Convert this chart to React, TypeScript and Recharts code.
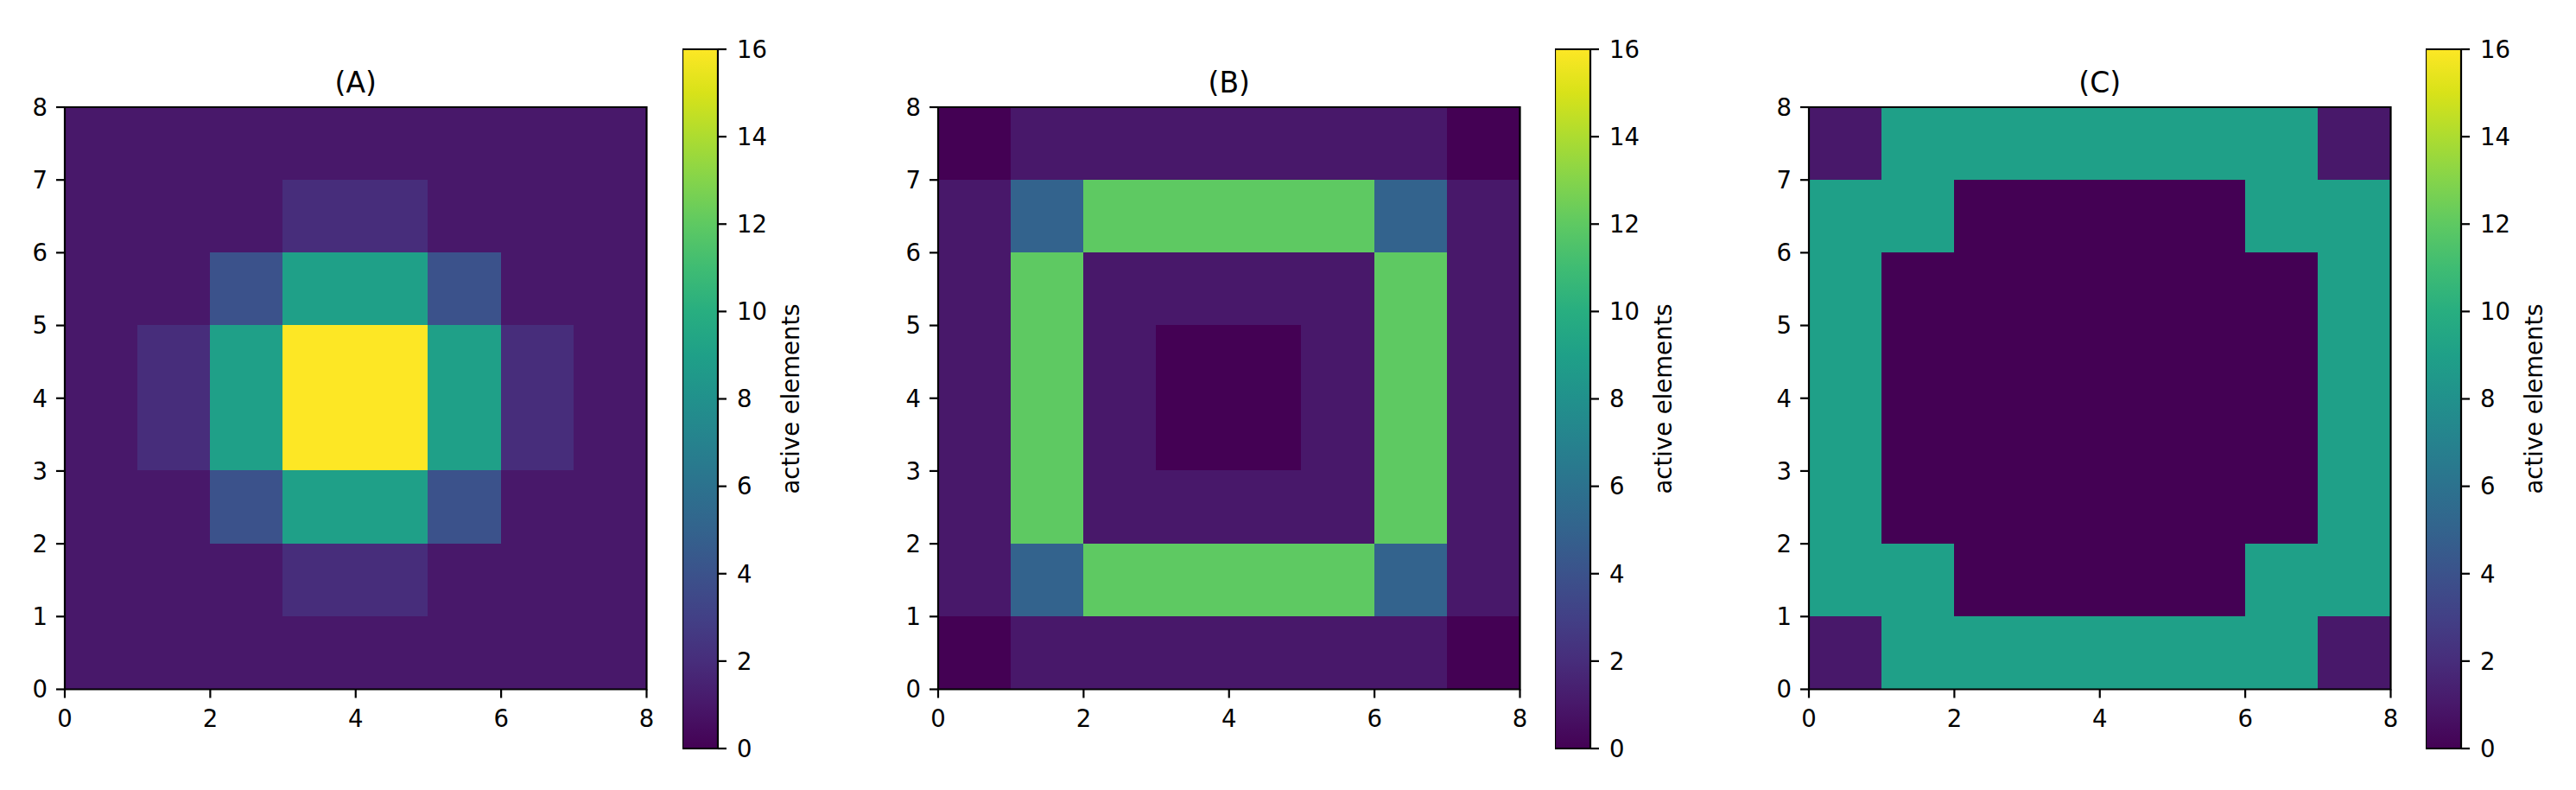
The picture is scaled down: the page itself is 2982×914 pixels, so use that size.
import React from 'react';
import { ComposedChart, XAxis, YAxis, ReferenceArea, Scatter } from 'recharts';

// ---------- data ----------
const panelTitles = ['(A)', '(B)', '(C)'];
const xTicks = [0, 2, 4, 6, 8];
const yTicks = [0, 1, 2, 3, 4, 5, 6, 7, 8];
const colorbarTicks = [0, 2, 4, 6, 8, 10, 12, 14, 16];
const colorbarLabel = 'active elements';
const colorMin = 0;
const colorMax = 16;

// rows listed from top (y 7..8) to bottom (y 0..1), columns x 0..8
const panelA = [
  [1, 1, 1, 1, 1, 1, 1, 1],
  [1, 1, 1, 2, 2, 1, 1, 1],
  [1, 1, 4, 9, 9, 4, 1, 1],
  [1, 2, 9, 16, 16, 9, 2, 1],
  [1, 2, 9, 16, 16, 9, 2, 1],
  [1, 1, 4, 9, 9, 4, 1, 1],
  [1, 1, 1, 2, 2, 1, 1, 1],
  [1, 1, 1, 1, 1, 1, 1, 1],
];
const panelB = [
  [0, 1, 1, 1, 1, 1, 1, 0],
  [1, 5, 12, 12, 12, 12, 5, 1],
  [1, 12, 1, 1, 1, 1, 12, 1],
  [1, 12, 1, 0, 0, 1, 12, 1],
  [1, 12, 1, 0, 0, 1, 12, 1],
  [1, 12, 1, 1, 1, 1, 12, 1],
  [1, 5, 12, 12, 12, 12, 5, 1],
  [0, 1, 1, 1, 1, 1, 1, 0],
];
const panelC = [
  [1, 9, 9, 9, 9, 9, 9, 1],
  [9, 9, 0, 0, 0, 0, 9, 9],
  [9, 0, 0, 0, 0, 0, 0, 9],
  [9, 0, 0, 0, 0, 0, 0, 9],
  [9, 0, 0, 0, 0, 0, 0, 9],
  [9, 0, 0, 0, 0, 0, 0, 9],
  [9, 9, 0, 0, 0, 0, 9, 9],
  [1, 9, 9, 9, 9, 9, 9, 1],
];
const panels = [panelA, panelB, panelC];

// viridis sampled at k/16, k = 0..16
const viridis = [
  '#440154', '#48186a', '#472d7b', '#424086', '#3b528b', '#33638d', '#2c728e', '#26828e',
  '#21918c', '#1fa088', '#28ae80', '#3fbc73', '#5ec962', '#84d44b', '#addc30', '#d8e219', '#fde725',
];

// ---------- layout ----------
const FONT = 'DejaVu Sans';
const TICK_FS = 27.5;
const TITLE_FS = 33;
const LW = 2.2;
const plotTop = 124;
const plotSize = 673.5;
const plotLefts = [75, 1085.5, 2094];
const cbLefts = [790, 1800, 2808];
const cbTop = 57;
const cbWidth = 41;
const cbHeight = 809;
const Y_AXIS_W = 75;

const colorOf = (v: number) => {
  const t = (v - colorMin) / (colorMax - colorMin);
  const i = Math.max(0, Math.min(viridis.length - 1, Math.round(t * (viridis.length - 1))));
  return viridis[i];
};

const toCells = (grid: number[][]) =>
  grid.flatMap((row, r) =>
    row.map((v, c) => ({ x1: c, x2: c + 1, y1: grid.length - 1 - r, y2: grid.length - r, v, cx: c + 0.5, cy: grid.length - 0.5 - r }))
  );

const tickStyle = { fontSize: TICK_FS, fill: '#000', fontFamily: FONT };
const tickLineStyle = { stroke: '#000', strokeWidth: LW };

function Panel({ idx }: { idx: number }) {
  const cells = toCells(panels[idx]);
  const width = Y_AXIS_W + plotSize + 10;
  const height = plotTop + plotSize + 80;
  return (
    <div style={{ position: 'absolute', left: plotLefts[idx] - Y_AXIS_W, top: 0 }}>
      <ComposedChart
        width={width}
        height={height}
        data={cells}
        margin={{ top: plotTop, right: 10, bottom: 0, left: 0 }}
      >
        <XAxis
          dataKey="cx"
          type="number"
          domain={[0, 8]}
          ticks={xTicks}
          interval={0}
          allowDataOverflow
          height={80}
          axisLine={false}
          tickLine={tickLineStyle}
          tickSize={10}
          tickMargin={14}
          tick={tickStyle}
        />
        <YAxis
          dataKey="cy"
          type="number"
          domain={[0, 8]}
          ticks={yTicks}
          interval={0}
          allowDataOverflow
          width={Y_AXIS_W}
          axisLine={false}
          tickLine={tickLineStyle}
          tickSize={10}
          tickMargin={10}
          tick={tickStyle}
        />
        {cells.map((c, i) => (
          <ReferenceArea
            key={i}
            x1={c.x1}
            x2={c.x2}
            y1={c.y1}
            y2={c.y2}
            fill={colorOf(c.v)}
            fillOpacity={1}
            stroke={colorOf(c.v)}
            strokeWidth={1}
            shapeRendering="crispEdges"
            isFront={false}
          />
        ))}
        <ReferenceArea
          x1={0}
          x2={8}
          y1={0}
          y2={8}
          fill="none"
          fillOpacity={0}
          stroke="#000"
          strokeWidth={LW}
          label={{ value: panelTitles[idx], position: 'top', offset: 17, fontSize: TITLE_FS, fill: '#000', fontFamily: FONT }}
        />
        <Scatter dataKey="cy" isAnimationActive={false} shape={() => <g />} />
      </ComposedChart>
    </div>
  );
}

function Colorbar({ idx }: { idx: number }) {
  const gid = `viridis-grad-${idx}`;
  const axisW = 168;
  const width = cbWidth + axisW;
  const height = cbTop + cbHeight + 40;
  const data = colorbarTicks.map((t) => ({ x: 0.5, y: t }));
  return (
    <div style={{ position: 'absolute', left: cbLefts[idx], top: 0 }}>
      <ComposedChart width={width} height={height} data={data} margin={{ top: cbTop, right: 0, bottom: 40, left: 0 }}>
        <defs>
          <linearGradient id={gid} x1="0" y1="1" x2="0" y2="0">
            {viridis.map((c, k) => (
              <stop key={k} offset={k / (viridis.length - 1)} stopColor={c} />
            ))}
          </linearGradient>
        </defs>
        <XAxis dataKey="x" type="number" domain={[0, 1]} hide height={0} />
        <YAxis
          dataKey="y"
          orientation="right"
          type="number"
          domain={[colorMin, colorMax]}
          ticks={colorbarTicks}
          interval={0}
          allowDataOverflow
          width={axisW}
          axisLine={false}
          tickLine={tickLineStyle}
          tickSize={10}
          tickMargin={12}
          tick={tickStyle}
          label={{ value: colorbarLabel, angle: -90, position: 'center', fontSize: TICK_FS, fill: '#000', fontFamily: FONT }}
        />
        <ReferenceArea
          x1={0}
          x2={1}
          y1={colorMin}
          y2={colorMax}
          fill={`url(#${gid})`}
          fillOpacity={1}
          stroke="#000"
          strokeWidth={LW}
        />
        <Scatter dataKey="y" isAnimationActive={false} shape={() => <g />} />
      </ComposedChart>
    </div>
  );
}

export default function App() {
  return (
    <div style={{ position: 'absolute', left: 0, top: 0, width: 2982, height: 914, background: '#fff', overflow: 'hidden' }}>
      {[0, 1, 2].map((i) => (
        <React.Fragment key={i}>
          <Panel idx={i} />
          <Colorbar idx={i} />
        </React.Fragment>
      ))}
    </div>
  );
}
